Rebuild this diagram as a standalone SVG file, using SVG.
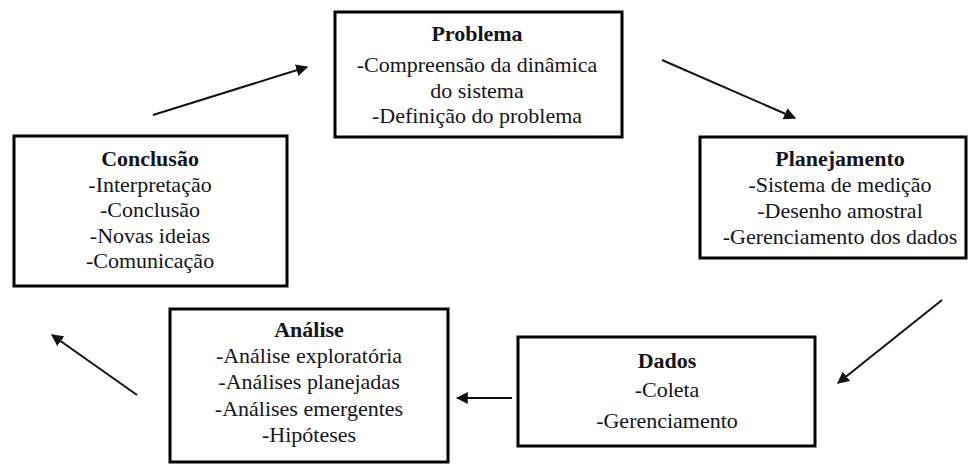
<svg xmlns="http://www.w3.org/2000/svg" width="970" height="464" viewBox="0 0 970 464">
<style>
.box{fill:#fff;stroke:#000;stroke-width:3}
.t{font-family:"Liberation Serif","Times New Roman",serif;font-size:20px;fill:#141420;text-anchor:middle}
.b{font-weight:bold}
.c{stroke:#111;stroke-width:2;fill:none;marker-end:url(#ah)}
</style>
<defs>
<marker id="ah" viewBox="0 0 10 10" refX="9" refY="5" markerWidth="6" markerHeight="6" orient="auto" markerUnits="strokeWidth">
<path d="M0,0 L10,5 L0,10 z" fill="#111"/>
</marker>
</defs>
<rect width="970" height="464" fill="#fff"/>
<g id="connectors">
<line class="c" x1="153" y1="115" x2="307" y2="67"/>
<line class="c" x1="662" y1="60" x2="795" y2="118"/>
<line class="c" x1="942" y1="300" x2="838" y2="383"/>
<line class="c" x1="512" y1="398" x2="457" y2="398"/>
<line class="c" x1="137" y1="395" x2="52" y2="335"/>
</g>
<g id="problema">
<rect class="box" x="335" y="12" width="287" height="125"/>
<g transform="translate(477,0) scale(1.1,1)">
<text class="t b" x="0" y="41">Problema</text>
<text class="t" x="0" y="72">-Compreensão da dinâmica</text>
<text class="t" x="0" y="98">do sistema</text>
<text class="t" x="0" y="123">-Definição do problema</text>
</g>
</g>
<g id="planejamento">
<rect class="box" x="700" y="137" width="266" height="121"/>
<g transform="translate(840,0) scale(1.1,1)">
<text class="t b" x="0" y="166">Planejamento</text>
<text class="t" x="0" y="192">-Sistema de medição</text>
<text class="t" x="0" y="218">-Desenho amostral</text>
<text class="t" x="0" y="244">-Gerenciamento dos dados</text>
</g>
</g>
<g id="conclusao">
<rect class="box" x="14" y="136" width="273" height="150"/>
<g transform="translate(150,0) scale(1.1,1)">
<text class="t b" x="0" y="166">Conclusão</text>
<text class="t" x="0" y="192">-Interpretação</text>
<text class="t" x="0" y="217">-Conclusão</text>
<text class="t" x="0" y="243">-Novas ideias</text>
<text class="t" x="0" y="268">-Comunicação</text>
</g>
</g>
<g id="analise">
<rect class="box" x="170" y="309" width="278" height="153"/>
<g transform="translate(309,0) scale(1.1,1)">
<text class="t b" x="0" y="337">Análise</text>
<text class="t" x="0" y="363">-Análise exploratória</text>
<text class="t" x="0" y="389">-Análises planejadas</text>
<text class="t" x="0" y="416">-Análises emergentes</text>
<text class="t" x="0" y="442">-Hipóteses</text>
</g>
</g>
<g id="dados">
<rect class="box" x="518" y="337" width="297" height="109"/>
<g transform="translate(667,0) scale(1.1,1)">
<text class="t b" x="0" y="368">Dados</text>
<text class="t" x="0" y="397">-Coleta</text>
<text class="t" x="0" y="428">-Gerenciamento</text>
</g>
</g>
</svg>
